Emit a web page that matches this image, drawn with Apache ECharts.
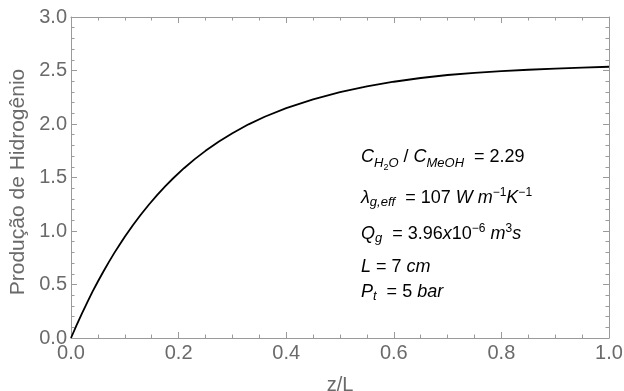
<!DOCTYPE html>
<html>
<head>
<meta charset="utf-8">
<script src="https://cdn.jsdelivr.net/npm/echarts@6/dist/echarts.min.js"></script>
<style>
  html, body { margin: 0; padding: 0; background: #fff; }
  #chart { width: 624px; height: 391px; }
</style>
</head>
<body>
<div id="chart"></div>
<script>
// valores
const zL = [0, 0.01, 0.02, 0.03, 0.04, 0.05, 0.06, 0.07, 0.08, 0.09, 0.1, 0.115, 0.13, 0.145, 0.16,
  0.175, 0.19, 0.21, 0.23, 0.25, 0.275, 0.3, 0.33, 0.36, 0.4, 0.45, 0.5, 0.55, 0.6, 0.65, 0.7,
  0.75, 0.8, 0.85, 0.9, 0.95, 1.0];
const producao = [0, 0.116, 0.226, 0.331, 0.433, 0.528, 0.619, 0.707, 0.791, 0.87, 0.947, 1.054, 1.154, 1.248, 1.336,
  1.418, 1.493, 1.587, 1.672, 1.749, 1.836, 1.914, 1.997, 2.068, 2.149, 2.231, 2.298, 2.352, 2.395, 2.43, 2.458,
  2.478, 2.495, 2.507, 2.517, 2.527, 2.535];
const xTicks = [0, 0.2, 0.4, 0.6, 0.8, 1.0];
const yTicks = [0, 0.5, 1.0, 1.5, 2.0, 2.5, 3.0];

const FONT = "'Liberation Sans', Arial, sans-serif";
const frameColor = '#9a9a9a';
const labelColor = '#6a6a6a';

const chart = echarts.init(document.getElementById('chart'), null, { renderer: 'canvas' });

// estilos para o texto com índices (sub/sobrescritos)
const tok = (size, italic, padTop) => ({
  fontFamily: FONT, fontStyle: italic ? 'italic' : 'normal', fontSize: size, lineHeight: size,
  verticalAlign: 'top', padding: [padTop, 0, 0, 0], color: '#000'
});
const rich = {
  i: tok(18, true, 3),
  r: tok(18, false, 3),
  sub: tok(13, true, 12),
  sub2: tok(13, true, 10),
  ss: tok(9, false, 18.5),
  sup: tok(12, false, 1)
};

const linhas = [
  { top: 145, text: '{i|C}{sub|H}{ss|2}{sub|O}{r| / }{i|C}{sub|MeOH}{r|  = 2.29}' },
  { top: 186, text: '{i|λ}{sub2|g,eff}{r|  = 107 }{i|W m}{sup|−1}{i|K}{sup|−1}' },
  { top: 222, text: '{i|Q}{sub2|g}{r|  = 3.96}{i|x}{r|10}{sup|−6}{i| m}{sup|3}{i|s}' },
  { top: 255, text: '{i|L}{r| = 7 }{i|cm}' },
  { top: 280, text: '{i|P}{sub2|t}{r|  = 5 }{i|bar}' }
];

const baseX = {
  type: 'value', min: 0, max: 1, interval: 0.2,
  axisLine: { show: true, onZero: false, lineStyle: { color: frameColor, width: 1 } },
  axisTick: { show: true, inside: true, length: 6, lineStyle: { color: frameColor } },
  minorTick: { show: true, splitNumber: 4, length: 3.5, lineStyle: { color: frameColor } },
  splitLine: { show: false }
};
const baseY = {
  type: 'value', min: 0, max: 3, interval: 0.5,
  axisLine: { show: true, onZero: false, lineStyle: { color: frameColor, width: 1 } },
  axisTick: { show: true, inside: true, length: 6, lineStyle: { color: frameColor } },
  minorTick: { show: true, splitNumber: 5, length: 3.5, lineStyle: { color: frameColor } },
  splitLine: { show: false }
};

chart.setOption({
  animation: false,
  grid: { left: 71, right: 15, top: 17, bottom: 53, containLabel: false, outerBoundsMode: 'none' },
  xAxis: [
    Object.assign({}, baseX, {
      position: 'bottom',
      name: 'z/L', nameLocation: 'middle', nameGap: 37,
      nameTextStyle: { fontFamily: FONT, fontSize: 20, color: labelColor },
      axisLabel: {
        show: true, margin: 5, fontFamily: FONT, fontSize: 20, color: labelColor,
        showMinLabel: true, showMaxLabel: true,
        formatter: v => xTicks.includes(+v.toFixed(1)) ? v.toFixed(1) : ''
      }
    }),
    Object.assign({}, baseX, { position: 'top', axisLabel: { show: false } })
  ],
  yAxis: [
    Object.assign({}, baseY, {
      position: 'left',
      axisLabel: {
        show: true, margin: 4, fontFamily: FONT, fontSize: 20, color: labelColor,
        showMinLabel: true, showMaxLabel: true,
        formatter: v => yTicks.includes(+v.toFixed(1)) ? v.toFixed(1) : ''
      }
    }),
    Object.assign({}, baseY, { position: 'right', axisLabel: { show: false } })
  ],
  series: [{
    type: 'line',
    xAxisIndex: 0, yAxisIndex: 0,
    data: zL.map((x, k) => [x, producao[k]]),
    showSymbol: false,
    smooth: false,
    lineStyle: { color: '#000', width: 1.8 },
    silent: true
  }],
  graphic: [{
    // título do eixo y
    type: 'text', x: 18.5, y: 182, rotation: Math.PI / 2,
    style: {
      text: 'Produção de Hidrogênio', fill: labelColor,
      font: '21px ' + FONT,
      align: 'center', verticalAlign: 'middle',
      textAlign: 'center', textVerticalAlign: 'middle'
    }
  }].concat(linhas.map(l => ({
    type: 'text', left: 361, top: l.top,
    style: { text: l.text, rich: rich }
  })))
});
</script>
</body>
</html>
